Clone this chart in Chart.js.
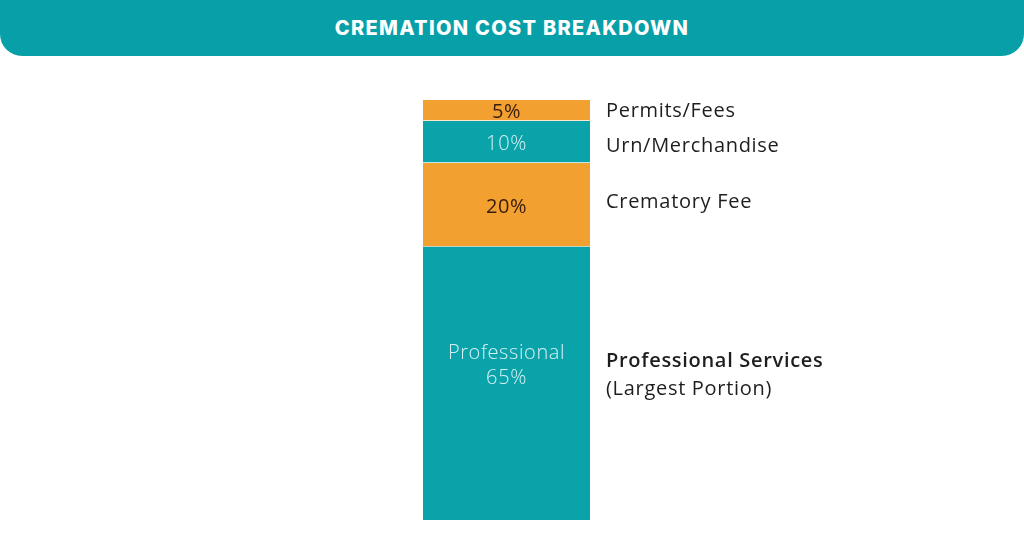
<!DOCTYPE html>
<html>
<head>
<meta charset="utf-8">
<script src="https://cdn.jsdelivr.net/npm/chart.js@4/dist/chart.umd.min.js"></script>
<style>
  html, body { margin: 0; padding: 0; background: #fff; }
  #wrap { position: relative; width: 1024px; height: 559px; overflow: hidden; }
  #header {
    position: absolute; left: 0; top: 0; width: 1024px; height: 56px;
    background: #07a0a9; border-radius: 0 0 22px 22px;
    color: #fff; font-family: Inter, "Open Sans", sans-serif; font-weight: 800;
    font-size: 20px; letter-spacing: 1.3px; text-align: center; line-height: 56px;
  }
  #myChart { position: absolute; left: 0; top: 0; }
</style>
</head>
<body>
<div id="wrap">
  <div id="header">CREMATION COST BREAKDOWN</div>
  <canvas id="myChart" width="1024" height="559"></canvas>
</div>
<script>
var categories = ["Cost"];
var segNames = ["Professional", "Crematory Fee", "Urn/Merchandise", "Permits/Fees"];
var segValues = [65, 20, 10, 5];
var segColors = ["#0ba3aa", "#f2a131", "#0ba3aa", "#f2a131"];
var innerLabels = [["Professional", "65%"], ["20%"], ["10%"], ["5%"]];
var innerColors = ["#d6f2f3", "#3a1c0e", "#d6f2f3", "#3a1c0e"];
var sideLabels = [["Professional Services", "(Largest Portion)"], ["Crematory Fee"], ["Urn/Merchandise"], ["Permits/Fees"]];

var datasets = segValues.map(function (v, i) {
  return {
    label: segNames[i],
    data: [v],
    backgroundColor: segColors[i],
    borderColor: "rgba(255,255,255,0.3)",
    borderWidth: i > 0 ? { bottom: 1 } : 0,
    borderSkipped: false
  };
});

var segmentText = {
  id: "segmentText",
  afterDatasetsDraw: function (chart) {
    var ctx = chart.ctx;
    ctx.save();
    ctx.textBaseline = "middle";
    chart.data.datasets.forEach(function (ds, i) {
      var bar = chart.getDatasetMeta(i).data[0];
      var top = Math.min(bar.y, bar.base), bottom = Math.max(bar.y, bar.base);
      var cy = (top + bottom) / 2 + 2;
      // text inside the bar
      var lines = innerLabels[i];
      ctx.textAlign = "center";
      ctx.fillStyle = innerColors[i];
      ctx.letterSpacing = "0.6px";
      ctx.font = (i % 2 ? "400" : "300") + " 20px 'Open Sans', sans-serif";
      var lh = 25;
      var y0 = cy - (lines.length - 1) * lh / 2 - (lines.length > 1 ? 20 : 0);
      lines.forEach(function (t, k) { ctx.fillText(t, bar.x, y0 + k * lh); });
      // labels to the right
      var side = sideLabels[i];
      ctx.textAlign = "left";
      ctx.fillStyle = "#1e1e1e";
      ctx.letterSpacing = "0.7px";
      var sy0 = cy - (side.length - 1) * 28 / 2 - (side.length > 1 ? 10 : 0);
      if (i === 2) sy0 += 2;
      if (i === 1) sy0 -= 5;
      if (i === 3) sy0 -= 1;
      side.forEach(function (t, k) {
        ctx.font = (side.length > 1 && k === 0 ? "600 " : "400 ") + "20px 'Open Sans', sans-serif";
        ctx.fillText(t, bar.x + bar.width / 2 + 16, sy0 + k * 28);
      });
    });
    ctx.restore();
  }
};

new Chart("myChart", {
  type: "bar",
  data: { labels: categories, datasets: datasets },
  options: {
    responsive: false,
    animation: false,
    layout: { padding: { left: 423, right: 434, top: 100, bottom: 39 } },
    plugins: { legend: { display: false }, tooltip: { enabled: false } },
    datasets: { bar: { categoryPercentage: 1, barPercentage: 1 } },
    scales: {
      x: { stacked: true, display: false },
      y: { stacked: true, display: false, min: 0, max: 100 }
    }
  },
  plugins: [segmentText]
});
</script>
</body>
</html>
